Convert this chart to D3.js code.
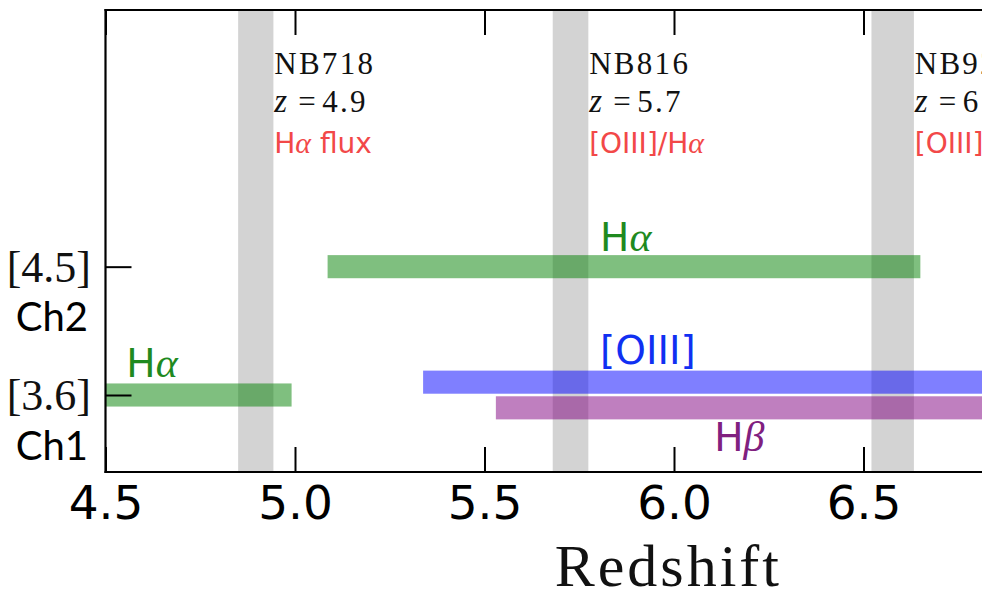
<!DOCTYPE html>
<html>
<head>
<meta charset="utf-8">
<script src="https://cdn.jsdelivr.net/npm/d3@7"></script>
<style>
  html, body { margin: 0; padding: 0; background: #fff; }
  svg { display: block; }
</style>
</head>
<body>
<svg id="chart" width="982" height="593"></svg>
<script>
// Redshift ranges over which strong emission lines fall in the IRAC channels,
// with the narrow-band filter redshifts overlaid as grey strips.

// x axis ticks (redshift)
const xTicks = [4.5, 5.0, 5.5, 6.0, 6.5, 7.0];
const xTickLabels = ["4.5", "5.0", "5.5", "6.0", "6.5", "7.0"];

// IRAC channels (row index on the y axis)
const channelRows = [1, 2];
const channelBands = ["[3.6]", "[4.5]"];
const channelNames = ["Ch1", "Ch2"];

// Narrow-band filters: redshift window covered by each filter
const filterNames = ["NB718", "NB816", "NB921"];
const filterZ = ["4.9", "5.7", "6.6"];
const filterLo = [4.850, 5.680, 6.521];
const filterHi = [4.943, 5.774, 6.633];
const filterUse = [["H", "α", " flux"], ["[OIII]/H", "α", ""], ["[OIII]/H", "α", ""]];

// Emission lines: redshift range inside each channel
const lineMain = ["H", "H", "[OIII]", "H"];
const lineGreek = ["α", "α", "", "β"];
const lineRow = [2, 1, 1.1, 0.9];
const lineZmin = [5.086, 4.40, 5.338, 5.530];
const lineZmax = [6.650, 4.991, 6.850, 7.080];
const lineColor = ["#008000", "#008000", "#0000ff", "#800080"];
const lineTextColor = ["#1f8a1f", "#1f8a1f", "#1030f2", "#80207f"];

// where each line name sits (redshift, row)
const labelZ = [5.805, 4.555, 5.805, 6.106];
const labelRow = [2.12, 1.143, 1.24, 0.566];

const svg = d3.select("#chart");
const plotLeft = 105.5, plotTop = 10, plotBottom = 472;
const pxPerUnit = 379;

const x = d3.scaleLinear().domain([4.5, 7.47]).range([plotLeft, plotLeft + 2.97 * pxPerUnit]);
const y = d3.scaleLinear().domain([0.4, 4.0]).range([plotBottom, plotTop]);

const barHalf = 0.09;

svg.append("defs").append("clipPath").attr("id", "plotclip")
  .append("rect").attr("x", plotLeft).attr("y", plotTop)
  .attr("width", x.range()[1] - plotLeft).attr("height", plotBottom - plotTop);

const plot = svg.append("g").attr("clip-path", "url(#plotclip)");

// narrow-band filter strips
plot.selectAll("rect.nb").data(filterNames).join("rect")
  .attr("class", "nb")
  .attr("x", (d, i) => x(filterLo[i]))
  .attr("width", (d, i) => x(filterHi[i]) - x(filterLo[i]))
  .attr("y", plotTop).attr("height", plotBottom - plotTop)
  .attr("fill", "#d3d3d3");

// emission-line coverage bars
plot.selectAll("rect.line").data(lineMain).join("rect")
  .attr("class", "line")
  .attr("x", (d, i) => x(lineZmin[i]))
  .attr("width", (d, i) => x(lineZmax[i]) - x(lineZmin[i]))
  .attr("y", (d, i) => y(lineRow[i] + barHalf))
  .attr("height", (d, i) => y(lineRow[i] - barHalf) - y(lineRow[i] + barHalf))
  .attr("fill", (d, i) => lineColor[i])
  .attr("fill-opacity", 0.5);

// line names
const lbl = plot.selectAll("text.linelbl").data(lineMain).join("text")
  .attr("class", "linelbl")
  .attr("x", (d, i) => x(labelZ[i]))
  .attr("y", (d, i) => y(labelRow[i]))
  .attr("fill", (d, i) => lineTextColor[i])
  .style("font-family", "'DejaVu Sans', sans-serif")
  .style("font-size", "39px");
lbl.append("tspan").text(d => d);
lbl.append("tspan")
  .style("font-family", "'Liberation Serif', serif")
  .style("font-style", "italic")
  .style("font-size", "42px")
  .text((d, i) => lineGreek[i]);

// filter annotations
const fg = plot.selectAll("g.flt").data(filterNames).join("g")
  .attr("class", "flt")
  .attr("transform", (d, i) => `translate(${x(filterHi[i]) + 0.8},0)`);
fg.append("text")
  .attr("y", 73.5)
  .style("font-family", "'Liberation Serif', serif")
  .style("font-size", "31px")
  .style("letter-spacing", "2.3px")
  .attr("fill", "#111")
  .text(d => d);
const zt = fg.append("text").attr("y", 112)
  .style("font-family", "'Liberation Serif', serif")
  .style("font-size", "31px")
  .attr("fill", "#111");
zt.append("tspan").attr("x", 0).style("font-style", "italic").style("font-size", "33px").text("z");
zt.append("tspan").attr("x", 24).text("=");
zt.append("tspan").attr("x", 48).style("letter-spacing", "2.3px").text((d, i) => filterZ[i]);
const ut = fg.append("text").attr("y", 153)
  .style("font-family", "'DejaVu Sans', sans-serif")
  .style("font-size", "28px")
  .attr("fill", "#f24848");
ut.append("tspan").text((d, i) => filterUse[i][0]);
ut.append("tspan").style("font-family", "'Liberation Serif', serif")
  .style("font-style", "italic").style("font-size", "30px")
  .text((d, i) => filterUse[i][1]);
ut.append("tspan").text((d, i) => filterUse[i][2]);

// axes: inward ticks on bottom, top and left
const tickLen = 25;
const xb = svg.append("g").attr("transform", `translate(0,${plotBottom})`)
  .call(d3.axisBottom(x).tickValues(xTicks).tickSize(-tickLen).tickSizeOuter(0)
    .tickPadding(14).tickFormat((d, i) => xTickLabels[i]));
xb.select(".domain").remove();
xb.selectAll(".tick line").attr("stroke", "#000").attr("stroke-width", 2);
xb.selectAll(".tick text")
  .attr("fill", "#000")
  .style("font-family", "'DejaVu Sans', sans-serif")
  .style("font-size", "47px");

const xt = svg.append("g").attr("transform", `translate(0,${plotTop})`)
  .call(d3.axisTop(x).tickValues(xTicks).tickSize(-tickLen).tickSizeOuter(0).tickFormat(""));
xt.select(".domain").remove();
xt.selectAll(".tick line").attr("stroke", "#000").attr("stroke-width", 2);

const yl = svg.append("g").attr("transform", `translate(${plotLeft},0)`)
  .call(d3.axisLeft(y).tickValues(channelRows).tickSize(-26).tickSizeOuter(0).tickFormat(""));
yl.select(".domain").remove();
yl.selectAll(".tick line").attr("stroke", "#000").attr("stroke-width", 2);

// channel labels
const cl = svg.selectAll("g.chan").data(channelRows).join("g")
  .attr("class", "chan")
  .attr("transform", d => `translate(0,${y(d)})`);
cl.append("text")
  .attr("x", 91).attr("y", 15)
  .attr("text-anchor", "end")
  .style("font-family", "'Liberation Serif', serif")
  .style("font-size", "44px")
  .attr("fill", "#111")
  .text((d, i) => channelBands[i]);
cl.append("text")
  .attr("x", 88).attr("y", 64.5)
  .attr("text-anchor", "end")
  .style("font-family", "Lato, 'Open Sans', sans-serif")
  .style("font-size", "40px")
  .attr("fill", "#000")
  .text((d, i) => channelNames[i]);

// spines
const spine = svg.append("g").attr("stroke", "#000").attr("stroke-width", 2.2).attr("fill", "none");
spine.append("line").attr("x1", plotLeft).attr("x2", plotLeft).attr("y1", plotTop - 1).attr("y2", plotBottom + 1);
spine.append("line").attr("x1", plotLeft - 1).attr("x2", 990).attr("y1", plotTop).attr("y2", plotTop);
spine.append("line").attr("x1", plotLeft - 1).attr("x2", 990).attr("y1", plotBottom).attr("y2", plotBottom);

// x axis title
svg.append("text")
  .attr("x", (x.range()[0] + x.range()[1]) / 2)
  .attr("y", 586)
  .attr("text-anchor", "middle")
  .style("font-family", "'Liberation Serif', serif")
  .style("font-size", "60px")
  .style("letter-spacing", "3px")
  .attr("fill", "#111")
  .text("Redshift");
</script>
</body>
</html>
